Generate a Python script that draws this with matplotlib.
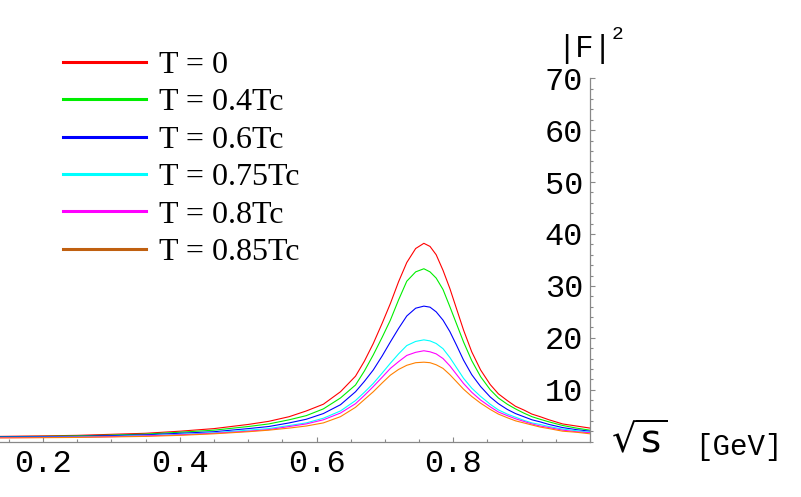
import matplotlib
matplotlib.use("Agg")
import matplotlib.pyplot as plt
from matplotlib.lines import Line2D
from matplotlib.ticker import MultipleLocator

# values
sqrt_s = [0.137, 0.2, 0.25, 0.3, 0.35, 0.4, 0.45, 0.5, 0.53, 0.56, 0.585, 0.61, 0.635, 0.657,
          0.67, 0.683, 0.696, 0.708, 0.72, 0.732, 0.745, 0.757, 0.766, 0.775, 0.785, 0.795,
          0.805, 0.815, 0.827, 0.84, 0.854, 0.866, 0.879, 0.891, 0.903, 0.915, 0.927, 0.94,
          0.96, 0.98, 1.0]
f2_t0 = [1.0, 1.1, 1.2, 1.4, 1.6, 2.0, 2.5, 3.3, 3.9, 4.8, 5.9, 7.2, 9.6, 12.6,
         15.5, 18.9, 22.8, 26.6, 30.8, 34.5, 37.2, 38.2, 37.6, 36.0, 33.0, 29.5,
         25.5, 21.5, 17.3, 13.8, 11.0, 9.2, 7.9, 6.8, 6.1, 5.3, 4.8, 4.2,
         3.4, 3.0, 2.6]
f2_t04 = [0.95, 1.0, 1.1, 1.25, 1.45, 1.8, 2.2, 2.9, 3.4, 4.2, 5.0, 6.3, 8.4, 10.9,
          13.6, 16.7, 20.1, 23.4, 27.3, 30.9, 32.7, 33.3, 32.7, 31.5, 29.3, 26.0,
          22.6, 19.2, 15.6, 12.5, 10.0, 8.4, 7.2, 6.3, 5.5, 4.8, 4.3, 3.8,
          3.1, 2.6, 2.2]
f2_t06 = [0.9, 0.95, 1.0, 1.15, 1.3, 1.6, 1.9, 2.5, 2.9, 3.6, 4.3, 5.4, 7.1, 9.6,
          11.6, 13.8, 16.5, 19.2, 21.8, 24.2, 25.7, 26.1, 25.9, 25.0, 23.4, 21.2,
          18.5, 15.7, 12.9, 10.6, 8.6, 7.3, 6.2, 5.4, 4.8, 4.2, 3.8, 3.3,
          2.7, 2.3, 2.0]
f2_t075 = [0.8, 0.85, 0.9, 1.0, 1.15, 1.4, 1.7, 2.2, 2.5, 3.1, 3.6, 4.5, 5.9, 7.9,
           9.5, 11.2, 13.2, 15.1, 16.9, 18.5, 19.3, 19.6, 19.4, 18.9, 17.9, 16.2,
           14.2, 12.2, 10.3, 8.7, 7.2, 6.1, 5.3, 4.7, 4.1, 3.6, 3.3, 2.9,
           2.4, 2.1, 1.8]
f2_t08 = [0.75, 0.8, 0.85, 0.95, 1.1, 1.3, 1.6, 2.0, 2.3, 2.9, 3.4, 4.2, 5.5, 7.3,
          8.9, 10.6, 12.4, 14.1, 15.4, 16.6, 17.2, 17.5, 17.3, 16.9, 16.0, 14.6,
          12.9, 11.2, 9.5, 8.0, 6.7, 5.7, 5.0, 4.4, 3.9, 3.4, 3.0, 2.7,
          2.2, 1.9, 1.7]
f2_t085 = [0.7, 0.75, 0.8, 0.9, 1.0, 1.2, 1.5, 1.9, 2.2, 2.6, 3.0, 3.6, 4.8, 6.6,
           8.1, 9.6, 11.3, 12.8, 13.9, 14.7, 15.2, 15.3, 15.2, 14.8, 14.1, 12.9,
           11.5, 10.1, 8.7, 7.4, 6.2, 5.3, 4.6, 4.0, 3.6, 3.2, 2.8, 2.5,
           2.0, 1.8, 1.5]

series = [f2_t0, f2_t04, f2_t06, f2_t075, f2_t08, f2_t085]
labels = ["T = 0", "T = 0.4Tc", "T = 0.6Tc", "T = 0.75Tc", "T = 0.8Tc", "T = 0.85Tc"]
line_colors = ["#ff0000", "#00ee00", "#0000ff", "#00ffff", "#ff00ff", "#ff8000"]
legend_colors = ["#ff0000", "#00ee00", "#0000ff", "#00ffff", "#ff00ff", "#c06010"]

fig = plt.figure(figsize=(8.01, 4.97), dpi=100)
ax = fig.add_axes([0.0, 0.1115, 590 / 801, 0.731])

for y, c in zip(series, line_colors):
    ax.plot(sqrt_s, y, color=c, lw=0.8)

ax.set_xlim(0.137, 1.0)
ax.set_ylim(0, 70)

# Mathematica-like axes: y axis sits at sqrt(s) = 1
for side in ["top", "right"]:
    ax.spines[side].set_visible(False)
ax.spines["left"].set_position(("axes", 1.0))
for side in ["left", "bottom"]:
    ax.spines[side].set_color("#888888")
    ax.spines[side].set_linewidth(0.9)

ax.xaxis.set_minor_locator(MultipleLocator(0.05))
ax.yaxis.set_minor_locator(MultipleLocator(2))
ax.set_xticks([0.2, 0.4, 0.6, 0.8])
ax.set_xticklabels(["0.2", "0.4", "0.6", "0.8"])
ax.set_yticks([10, 20, 30, 40, 50, 60, 70])
ax.set_yticklabels(["10", "20", "30", "40", "50", "60", "70"])

ax.tick_params(which="both", direction="in", color="#888888", width=0.8)
ax.tick_params(which="major", length=3.5)
ax.tick_params(which="minor", length=2)
ax.tick_params(axis="x", pad=5)
ax.tick_params(axis="y", pad=5)
for lab in ax.get_xticklabels() + ax.get_yticklabels():
    lab.set_fontfamily("Liberation Mono")
    lab.set_fontsize(23)

ax.set_facecolor("none")

# axis titles
fig.text(557 / 801, 1 - 57 / 497, "|F|", fontfamily="Liberation Mono", fontsize=22, va="baseline")
fig.text(612 / 801, 1 - 39 / 497, "2", fontfamily="Liberation Mono", fontsize=14, va="baseline")
fig.text(611 / 801, 1 - 460 / 497, r"$\sqrt{\mathrm{s}}$", fontsize=28, va="bottom")
fig.text(695 / 801, 1 - 455 / 497, "[GeV]", fontfamily="Liberation Mono", fontsize=21, va="baseline")

handles = [Line2D([0], [0], color=c, lw=2.2) for c in legend_colors]
fig.legend(handles, labels, loc="upper left", bbox_to_anchor=(50 / 801, 1 - 38 / 497),
           frameon=False, prop={"family": "Liberation Serif", "size": 23},
           handlelength=2.6, handletextpad=0.4, labelspacing=0.25, borderaxespad=0)

fig.savefig("out.png", dpi=100)
